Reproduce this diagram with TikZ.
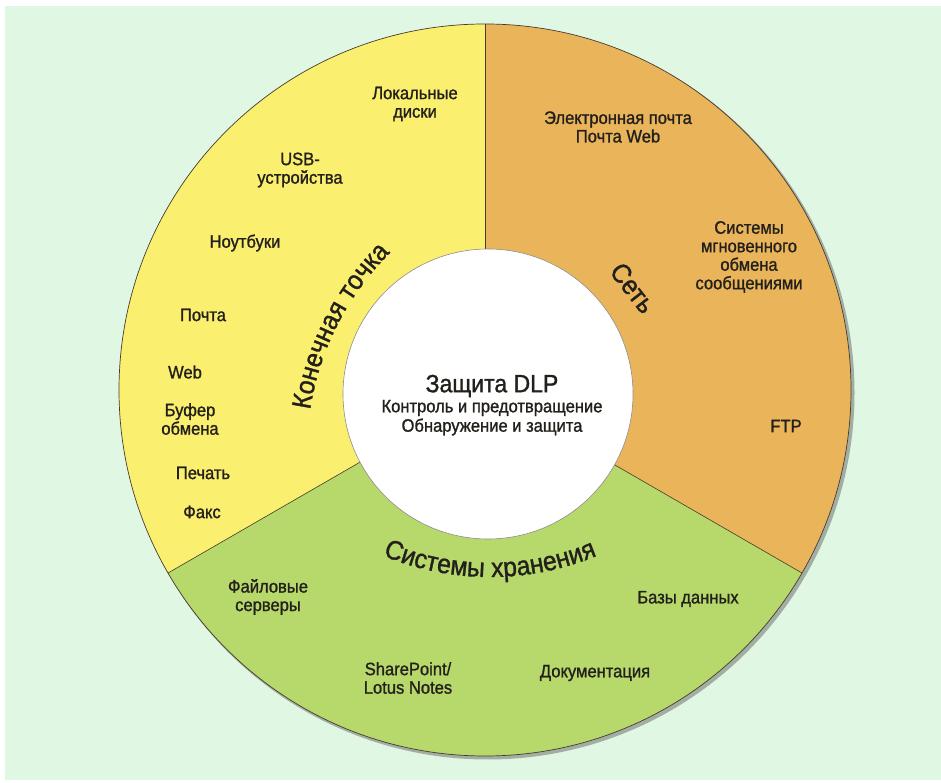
\documentclass[tikz,border=0pt]{standalone}
\usepackage{fontspec}
\setmainfont{Liberation Sans}[FakeStretch=0.92, FakeBold=1.2]
\usetikzlibrary{decorations.text}

\definecolor{bgmint}{RGB}{224,247,228}
\definecolor{yellowfill}{RGB}{251,239,112}
\definecolor{orangefill}{RGB}{234,181,90}
\definecolor{greenfill}{RGB}{183,216,106}
\definecolor{edgecol}{RGB}{70,60,45}
\definecolor{textcol}{RGB}{35,32,28}

\newcommand{\itemsize}{\fontsize{18}{18.5}\selectfont}
\newcommand{\labelsize}{\fontsize{27}{28}\selectfont}

\tikzset{
  item/.style={font=\itemsize, align=center, text=textcol, inner sep=0pt},
  sectorlabel/.style={font=\labelsize, text=textcol, inner sep=0pt},
  ring/.style={draw=edgecol, line width=0.7pt},
}

\begin{document}
\begin{tikzpicture}[x=1pt, y=1pt]

  \useasboundingbox (0,0) rectangle (941,783);
  \fill[bgmint] (5,3) rectangle (941,777);

  \coordinate (c) at (485,393);

  % outer ring with its three sectors
  \fill[black!60, opacity=0.5] ([xshift=2.5,yshift=-2.5]c) circle[radius=367];
  \fill[yellowfill] (c) -- ++(90:366) arc[start angle=90, end angle=210, radius=366] -- cycle;
  \fill[orangefill] (c) -- ++(-30:366) arc[start angle=-30, end angle=90, radius=366] -- cycle;
  \fill[greenfill] (c) -- ++(210:366) arc[start angle=210, end angle=330, radius=366] -- cycle;
  \draw[ring] (c) circle[radius=366];
  \foreach \a in {90,210,330}
    \draw[edgecol, line width=0.6pt] (c) -- ++(\a:366);

  % centre
  \node[circle, fill=white, draw=black!45, line width=0.6pt, minimum size=290pt, inner sep=0pt] (core) at (488,389) {};
  \node[text=textcol, font=\fontsize{25}{26}\selectfont] (dlp) at (492,397) {Защита DLP};
  \node[item] (ctrl) at (492,375) {Контроль и предотвращение};
  \node[item] (detect) at (492,356) {Обнаружение и защита};

  % sector labels
  \coordinate (endarc) at (587,331);
  \coordinate (storarc) at (490,486);
  \path[decorate, decoration={text along path, text align=center,
      text={|\labelsize\color{textcol}|Конечная точка}}]
    ([shift={(178:280)}]endarc) arc[start angle=178, end angle=128, radius=280];
  \path[decorate, decoration={text along path, text align=center,
      text={|\labelsize\color{textcol}|Системы хранения}}]
    ([shift={(240:280)}]storarc) arc[start angle=240, end angle=300, radius=280];
  \node[sectorlabel, rotate=-52] (net) at (633,495) {Сеть};

  % endpoint
  \node[item] (disks) at (415,679) {Локальные\\диски};
  \node[item] (usb) at (300,613) {USB-\\устройства};
  \node[item] (laptops) at (245,540) {Ноутбуки};
  \node[item] (mail) at (203,468) {Почта};
  \node[item] (web) at (185,411) {Web};
  \node[item] (clip) at (190,364) {Буфер\\обмена};
  \node[item] (print) at (203,310) {Печать};
  \node[item] (fax) at (202,271) {Факс};

  % network
  \node[item] (email) at (618,656) {Электронная почта\\Почта Web};
  \node[item] (im) at (749,526) {Системы\\мгновенного\\обмена\\сообщениями};
  \node[item] (ftp) at (786,357) {FTP};

  % storage
  \node[item] (files) at (268,186) {Файловые\\серверы};
  \node[item] (sp) at (408,105) {SharePoint/\\Lotus Notes};
  \node[item] (db) at (688,184) {Базы данных};
  \node[item] (docs) at (595,110) {Документация};

\end{tikzpicture}
\end{document}
